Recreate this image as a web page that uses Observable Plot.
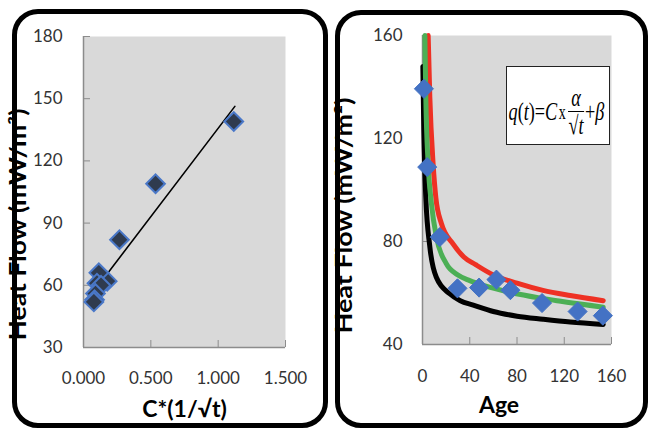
<!DOCTYPE html>
<html><head><meta charset="utf-8">
<script src="https://cdn.jsdelivr.net/npm/d3@7"></script>
<script src="https://cdn.jsdelivr.net/npm/@observablehq/plot@0.6"></script>
<style>
html,body{margin:0;padding:0;background:#fff;}
#wrap{position:relative;width:652px;height:428px;overflow:hidden;background:#fff;}
.panel{position:absolute;border:5px solid #000;border-radius:26px;box-sizing:border-box;}
.chart{position:absolute;top:0;}
#formula{position:absolute;left:506px;top:66px;width:104px;height:79px;box-sizing:border-box;background:#fff;border:1.5px solid #222;display:flex;align-items:center;justify-content:center;overflow:hidden;}
#formula .f{display:inline-flex;align-items:center;font-family:'Liberation Serif','DejaVu Serif',serif;font-size:26px;color:#000;transform:translate(-2px,7px) scaleX(0.7);white-space:nowrap;}
#formula .frac{display:inline-flex;flex-direction:column;align-items:center;margin:0 1px;}
#formula .num{border-bottom:1.4px solid #000;padding:0 5px;line-height:1.0;}
#formula .den{line-height:1.05;}
#formula .xx{font-size:20px;margin:0 2px;}
</style></head>
<body><div id="wrap">
<div class="panel" style="left:12px;top:9px;width:316px;height:419px;"></div>
<div class="panel" style="left:335px;top:10px;width:313px;height:418px;"></div>
<div id="left" class="chart" style="left:0px;"></div>
<div id="right" class="chart" style="left:330px;"></div>
<div id="formula"><span class="f"><i>q</i>(<i>t</i>)=<i>C</i><span class="xx">x</span><span class="frac"><span class="num"><i>α</i></span><span class="den">√<i>t</i></span></span>+<i>β</i></span></div>
</div>
<script>
// ---- Left panel data ----
const leftX = [1.116, 0.535, 0.267, 0.176, 0.114, 0.100, 0.130, 0.089, 0.082, 0.077];
const leftY = [139, 109, 82, 62, 66, 61, 60, 56, 53, 52];
const fitX = [0.082, 1.124];
const fitY = [57.5, 146.3];
const xTicksLeft = [0, 0.5, 1.0, 1.5];
const yTicksLeft = [30, 60, 90, 120, 150, 180];
const xTitleLeft = "C*(1/\u221At)";
const yTitle = "Heat Flow (mW/m\u00B2)";

// ---- Right panel data ----
const ages = [1.2, 4.0, 14.6, 29.6, 47.9, 62.6, 74.4, 101.2, 131.3, 152.7];
const heatFlow = [139.3, 108.9, 81.7, 61.8, 62.1, 65.2, 61.1, 56.1, 52.8, 51.2];
const redAge = [4.8, 6.2, 9, 11.3, 16, 26, 35, 45, 60, 80, 102, 125, 153];
const redHF = [160, 136, 110, 97, 87, 79, 74, 71, 67, 63.8, 61, 59, 57];
const greenAge = [2, 2.8, 4.8, 7.6, 11.8, 20, 30, 40, 53, 74, 100, 117, 153];
const greenHF = [160, 136, 110, 94.6, 81.7, 71.5, 67, 64.8, 62.8, 60.3, 58, 56.8, 54.5];
const blackAge = [0.3, 1.1, 2.8, 6.2, 11.8, 23, 32, 43, 60, 80, 102, 125, 153];
const blackHF = [148, 123, 97, 78, 66, 59.7, 57, 55.3, 52.8, 51, 49.8, 48.7, 47.8];
const xTicksRight = [0, 40, 80, 120, 160];
const yTicksRight = [40, 80, 120, 160];
const xTitleRight = "Age";

const FONT = "Lato, 'Open Sans', sans-serif";
const AX = "#8c8c8c";
const zip = (xs, ys) => xs.map((x, i) => ({x, y: ys[i]}));

function stretchText(svg, str, len) {
  svg.querySelectorAll("text").forEach(t => {
    if (t.textContent === str) {
      t.setAttribute("textLength", len);
      t.setAttribute("lengthAdjust", "spacingAndGlyphs");
    }
  });
}

const leftPts = zip(leftX, leftY);
const fitPts = zip(fitX, fitY);

const left = Plot.plot({
  width: 330, height: 428,
  marginLeft: 83, marginRight: 45, marginTop: 36, marginBottom: 81,
  x: {domain: [0, 1.5]}, y: {domain: [30, 180]},
  style: {fontFamily: FONT, fontSize: "17px", color: "#333", background: "transparent"},
  marks: [
    Plot.frame({fill: "#d9d9d9", stroke: null}),
    Plot.axisX({ticks: xTicksLeft, tickFormat: d3.format(".3f"), tickSize: 0, tickPadding: 24, fontSize: 17, label: null}),
    Plot.axisX({ticks: xTicksLeft, tickSize: -7, tickFormat: () => "", stroke: AX, label: null}),
    Plot.axisY({ticks: yTicksLeft, tickSize: 0, tickPadding: 21, fontSize: 17, label: null}),
    Plot.axisY({ticks: yTicksLeft, tickSize: -7, tickFormat: () => "", stroke: AX, label: null}),
    Plot.ruleX([0], {stroke: AX, strokeWidth: 1.5}),
    Plot.ruleY([30], {stroke: AX, strokeWidth: 1.5}),
    Plot.line(fitPts, {x: "x", y: "y", stroke: "#000", strokeWidth: 1.6}),
    Plot.dot(leftPts, {x: "x", y: "y", symbol: "diamond2", r: 8.4, fill: "#2f3b4f", stroke: "#4a78c8", strokeWidth: 2}),
    Plot.text([xTitleLeft], {frameAnchor: "bottom", dy: 69, fontWeight: "bold", fontSize: 23, fill: "#000"}),
    Plot.text([yTitle], {frameAnchor: "bottom-left", rotate: -90, textAnchor: "start", dx: -58, dy: -7, fontWeight: "bold", fontSize: 22, fill: "#000"})
  ]
});
stretchText(left, yTitle, 232);
document.getElementById("left").appendChild(left);

const rightPts = zip(ages, heatFlow);
const right = Plot.plot({
  width: 322, height: 428,
  marginLeft: 92, marginRight: 41, marginTop: 35, marginBottom: 84,
  x: {domain: [0, 160]}, y: {domain: [40, 160]},
  style: {fontFamily: FONT, fontSize: "17px", color: "#333", background: "transparent"},
  marks: [
    Plot.frame({fill: "#d9d9d9", stroke: null}),
    Plot.axisX({ticks: xTicksRight, tickSize: 0, tickPadding: 25, fontSize: 17, label: null}),
    Plot.axisX({ticks: xTicksRight, tickSize: -7, tickFormat: () => "", stroke: AX, label: null}),
    Plot.axisY({ticks: yTicksRight, tickSize: 0, tickPadding: 20, fontSize: 17, label: null}),
    Plot.axisY({ticks: yTicksRight, tickSize: -7, tickFormat: () => "", stroke: AX, label: null}),
    Plot.ruleX([0], {stroke: AX, strokeWidth: 1.5}),
    Plot.ruleY([40], {stroke: AX, strokeWidth: 1.5}),
    Plot.line(zip(blackAge, blackHF), {x: "x", y: "y", stroke: "#000", strokeWidth: 5, curve: "monotone-x"}),
    Plot.line(zip(redAge, redHF), {x: "x", y: "y", stroke: "#ee3124", strokeWidth: 5, curve: "monotone-x"}),
    Plot.line(zip(greenAge, greenHF), {x: "x", y: "y", stroke: "#4caf55", strokeWidth: 5, curve: "monotone-x"}),
    Plot.dot(rightPts, {x: "x", y: "y", symbol: "diamond2", r: 8.6, fill: "#4472c4", stroke: "#4472c4", strokeWidth: 1}),
    Plot.text([xTitleRight], {frameAnchor: "bottom", dx: -18, dy: 68, fontWeight: "bold", fontSize: 23, fill: "#000"}),
    Plot.text([yTitle], {frameAnchor: "bottom-left", rotate: -90, textAnchor: "start", dx: -71, dy: -11, fontWeight: "bold", fontSize: 22, fill: "#000"})
  ]
});
stretchText(right, yTitle, 236);
document.getElementById("right").appendChild(right);
</script>
</body></html>
